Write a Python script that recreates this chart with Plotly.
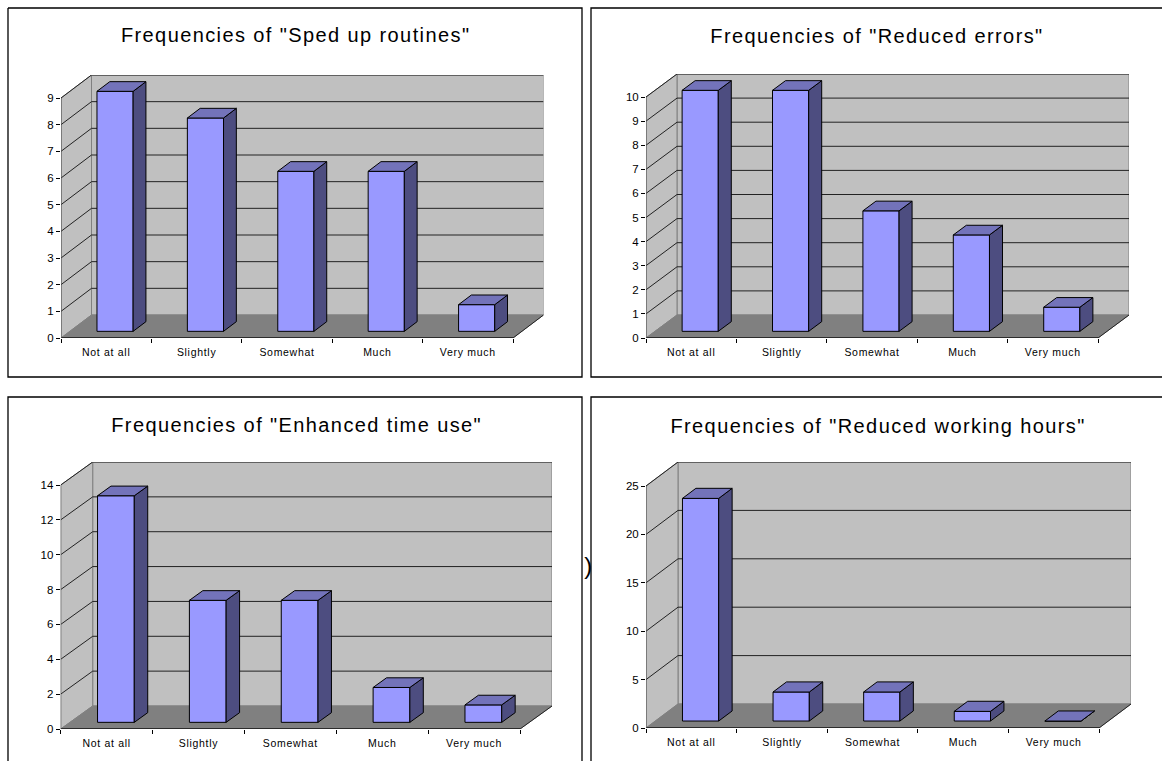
import plotly.graph_objects as go

categories = ["Not at all", "Slightly", "Somewhat", "Much", "Very much"]
titles = ['Frequencies of "Sped up routines"', 'Frequencies of "Reduced errors"',
          'Frequencies of "Enhanced time use"', 'Frequencies of "Reduced working hours"']
sped_up = [9, 8, 6, 6, 1]
reduced_errors = [10, 10, 5, 4, 1]
time_use = [13, 7, 7, 2, 1]
working_hours = [23, 3, 3, 1, 0]
series = [sped_up, reduced_errors, time_use, working_hours]
y_max = [9, 10, 14, 25]
y_step = [1, 1, 2, 5]

W, H = 1162, 761
# front-left x, front-right x, y of zero, y of max, depth x, depth y (pixels)
geom = [
    (61, 513, 338, 98, 30.5, 23),
    (646, 1098, 338, 97, 31, 23),
    (60.7, 520, 729, 485, 32, 23),
    (646, 1099, 728, 486, 32, 24),
]
borders = [(8, 8, 582, 377), (591, 8, W, 377), (8, 397, 582, H), (591, 397, W, H)]
title_pos = [(295, 35), (877, 36), (296, 425), (878, 426)]

FRONT, SIDE, TOP = "#9999FF", "#4D4D80", "#7373BA"
WALL, FLOOR, EDGE = "#C0C0C0", "#808080", "#808080"
FONT = "Liberation Sans, Arial, sans-serif"
F0, F1 = 0.29, 0.71  # depth fractions of the bar's front and back
BW = 0.4

fig = go.Figure()
shapes, annotations = [], []


def path(pts):
    return "M " + " L ".join(f"{x:.4f} {y:.4f}" for x, y in pts) + " Z"


for i, vals in enumerate(series):
    xl, xr, y0, yt, dpx, dpy = geom[i]
    n = str(i + 1) if i else ""
    xa, ya = "x" + n, "y" + n
    slot = (xr - xl) / len(categories)
    unit = (y0 - yt) / y_max[i]
    dx, dy = dpx / slot, dpy / unit
    lo, hi = -0.5, len(categories) - 0.5
    top = y_max[i] + dy

    fig.add_trace(go.Bar(
        x=categories, y=vals, base=[F0 * dy] * len(vals),
        width=BW, offset=-BW / 2 + F0 * dx,
        marker=dict(color=FRONT, line=dict(color="black", width=1)),
        xaxis=xa, yaxis=ya, showlegend=False,
    ))

    ax_common = dict(
        showgrid=False, zeroline=False, showline=False, ticks="outside",
        ticklen=4, tickwidth=1, tickcolor="black", fixedrange=True,
    )
    fig.update_layout({
        ("xaxis" + n): dict(
            domain=[xl / W, (xr + dpx) / W], type="category", categoryorder="array",
            categoryarray=categories, range=[lo, hi + dx], tickson="boundaries",
            ticklabelstandoff=6,
            anchor=ya, tickfont=dict(family=FONT, size=10.5, color="black"), **ax_common),
        ("yaxis" + n): dict(
            domain=[1 - y0 / H, 1 - (yt - dpy) / H], range=[0, top],
            tickvals=list(range(0, y_max[i] + 1, y_step[i])),
            anchor=xa, tickfont=dict(family=FONT, size=11.5, color="black"), **ax_common),
    })

    ref = dict(xref=xa, yref=ya)
    # back wall, side wall, floor
    shapes.append(dict(type="path", path=path([(lo + dx, dy), (hi + dx, dy), (hi + dx, top), (lo + dx, top)]),
                       fillcolor=WALL, line=dict(color=EDGE, width=1), layer="below", **ref))
    shapes.append(dict(type="path", path=path([(lo, 0), (lo + dx, dy), (lo + dx, top), (lo, y_max[i])]),
                       fillcolor=WALL, line=dict(color=EDGE, width=1), layer="below", **ref))
    shapes.append(dict(type="path", path=path([(lo, 0), (hi, 0), (hi + dx, dy), (lo + dx, dy)]),
                       fillcolor=FLOOR, line=dict(color=FLOOR, width=1), layer="below", **ref))
    # gridlines on the walls
    for v in range(y_step[i], y_max[i] + 1, y_step[i]):
        shapes.append(dict(type="line", x0=lo, y0=v, x1=lo + dx, y1=v + dy,
                           line=dict(color="#222222", width=1), layer="below", **ref))
        shapes.append(dict(type="line", x0=lo + dx, y0=v + dy, x1=hi + dx, y1=v + dy,
                           line=dict(color="#222222", width=1), layer="below", **ref))
    # axis lines
    shapes.append(dict(type="line", x0=lo, y0=0, x1=hi, y1=0, line=dict(color="#111111", width=1.5), layer="below", **ref))
    shapes.append(dict(type="line", x0=hi, y0=0, x1=hi + dx, y1=dy, line=dict(color="#222222", width=1), layer="below", **ref))
    shapes.append(dict(type="line", x0=lo, y0=0, x1=lo, y1=y_max[i], line=dict(color="#555555", width=1), layer="below", **ref))

    # 3D faces of each bar
    for k, v in enumerate(vals):
        a = k - BW / 2
        b = k + BW / 2
        fx0, fx1 = F0 * dx, F1 * dx
        fy0, fy1 = F0 * dy, F1 * dy
        shapes.append(dict(type="path", path=path([(b + fx0, fy0), (b + fx1, fy1), (b + fx1, fy1 + v), (b + fx0, fy0 + v)]),
                           fillcolor=SIDE, line=dict(color="black", width=1), layer="above", **ref))
        shapes.append(dict(type="path", path=path([(a + fx0, fy0 + v), (b + fx0, fy0 + v), (b + fx1, fy1 + v), (a + fx1, fy1 + v)]),
                           fillcolor=TOP, line=dict(color="black", width=1), layer="above", **ref))

    # panel border (open where the page cuts it off) and title
    x0, y1, x1, y2 = borders[i]
    if x1 < W and y2 < H:
        bx = [(x0, y1), (x1, y1), (x1, y2), (x0, y2), (x0, y1)]
    elif y2 < H:
        bx = [(x1, y1), (x0, y1), (x0, y2), (x1, y2)]
    elif x1 < W:
        bx = [(x0, y2), (x0, y1), (x1, y1), (x1, y2)]
    else:
        bx = [(x0, y2), (x0, y1), (x1, y1)]
    border_path = "M " + " L ".join(f"{px / W:.5f} {1 - py / H:.5f}" for px, py in bx)
    shapes.append(dict(type="path", xref="paper", yref="paper", path=border_path,
                       line=dict(color="black", width=1.3), layer="below"))
    tx, ty = title_pos[i]
    annotations.append(dict(text=titles[i], xref="paper", yref="paper", x=tx / W, y=1 - ty / H,
                            xanchor="center", yanchor="middle", showarrow=False,
                            font=dict(family=FONT, size=20, color="black")))

annotations.append(dict(text=")", xref="paper", yref="paper", x=589 / W, y=1 - 565 / H,
                        xanchor="center", yanchor="middle", showarrow=False,
                        font=dict(family=FONT, size=24, color="black")))

fig.update_layout(
    width=W, height=H, margin=dict(l=0, r=0, t=0, b=0, autoexpand=False),
    paper_bgcolor="white", plot_bgcolor="rgba(0,0,0,0)",
    shapes=shapes, annotations=annotations, showlegend=False, barmode="overlay",
)
fig.write_html(
    "out.html", config={"displayModeBar": False},
    post_script=(
        "document.body.style.margin='0';document.body.style.overflow='hidden';"
        "document.querySelectorAll('.annotation-text').forEach(function(t){t.style.letterSpacing='1.4px';});"
        "document.querySelectorAll('.xaxislayer-above text').forEach(function(t){t.style.letterSpacing='0.7px';});"
    ),
)
